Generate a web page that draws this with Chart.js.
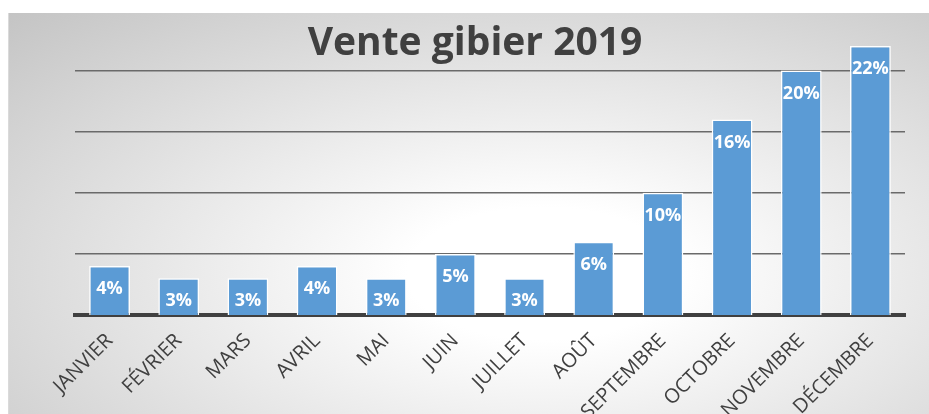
<!DOCTYPE html>
<html>
<head>
<meta charset="utf-8">
<script src="https://cdn.jsdelivr.net/npm/chart.js@4"></script>
<style>
  html, body { margin: 0; padding: 0; background: #fff; overflow: hidden; }
  #wrap {
    position: absolute; left: 8px; top: 13px; width: 921px; height: 401px;
    background: radial-gradient(ellipse farthest-corner at 58% 65%, #ffffff 18%, #c4c4c4 100%);
    border-left: 1px solid #dadada;
  }
</style>
</head>
<body>
<div id="wrap"><canvas id="chart"></canvas></div>
<script>
const titleText = 'Vente gibier 2019';
const months = ['JANVIER', 'FÉVRIER', 'MARS', 'AVRIL', 'MAI', 'JUIN', 'JUILLET', 'AOÛT', 'SEPTEMBRE', 'OCTOBRE', 'NOVEMBRE', 'DÉCEMBRE'];
const ventes = [4, 3, 3, 4, 3, 5, 3, 6, 10, 16, 20, 22];
const gridSteps = [5, 10, 15, 20];

// title is drawn over the plot area like in the Excel chart
const titlePlugin = {
    id: 'bigTitle',
    afterDraw(chart) {
        const ctx = chart.ctx;
        ctx.save();
        ctx.font = 'bold 39px "Open Sans"';
        ctx.fillStyle = '#404040';
        ctx.textAlign = 'center';
        ctx.textBaseline = 'alphabetic';
        ctx.fillText(titleText, 466, 42);
        ctx.restore();
    }
};

// white percent labels inside the top of each bar
const valueLabels = {
    id: 'valueLabels',
    afterDatasetsDraw(chart) {
        const ctx = chart.ctx;
        const meta = chart.getDatasetMeta(0);
        ctx.save();
        ctx.font = 'bold 18px "Open Sans"';
        ctx.fillStyle = '#ffffff';
        ctx.textAlign = 'center';
        ctx.textBaseline = 'middle';
        meta.data.forEach((bar, i) => {
            ctx.fillText(ventes[i] + '%', bar.x, bar.y + 23);
        });
        ctx.restore();
    }
};

const ctx = document.getElementById('chart').getContext('2d');
new Chart(ctx, {
    type: 'bar',
    plugins: [titlePlugin, valueLabels],
    data: {
        labels: months,
        datasets: [{
            label: 'Vente',
            data: ventes,
            backgroundColor: '#5B9BD5',
            borderColor: '#ffffff',
            borderWidth: 1.5,
            borderSkipped: 'bottom',
            barPercentage: 0.59,
            categoryPercentage: 1
        }]
    },
    options: {
        responsive: true,
        maintainAspectRatio: false,
        animation: false,
        layout: {
            padding: { left: 66, right: 25, top: 27, bottom: 0 }
        },
        plugins: {
            legend: { display: false },
            tooltip: { enabled: false }
        },
        scales: {
            x: {
                afterFit(scale) { scale.height = 99; },
                grid: { display: false },
                border: { display: true, color: '#404040', width: 4 },
                ticks: {
                    color: '#404040',
                    font: { family: 'Open Sans', size: 20 },
                    minRotation: 45,
                    maxRotation: 45,
                    padding: 6
                }
            },
            y: {
                min: 0,
                max: 22.5,
                afterBuildTicks(scale) {
                    scale.ticks = gridSteps.map(v => ({ value: v }));
                },
                ticks: { display: false },
                border: { display: false },
                grid: { color: '#6a6a6a', lineWidth: 1.5, drawTicks: false }
            }
        }
    }
});
</script>
</body>
</html>
